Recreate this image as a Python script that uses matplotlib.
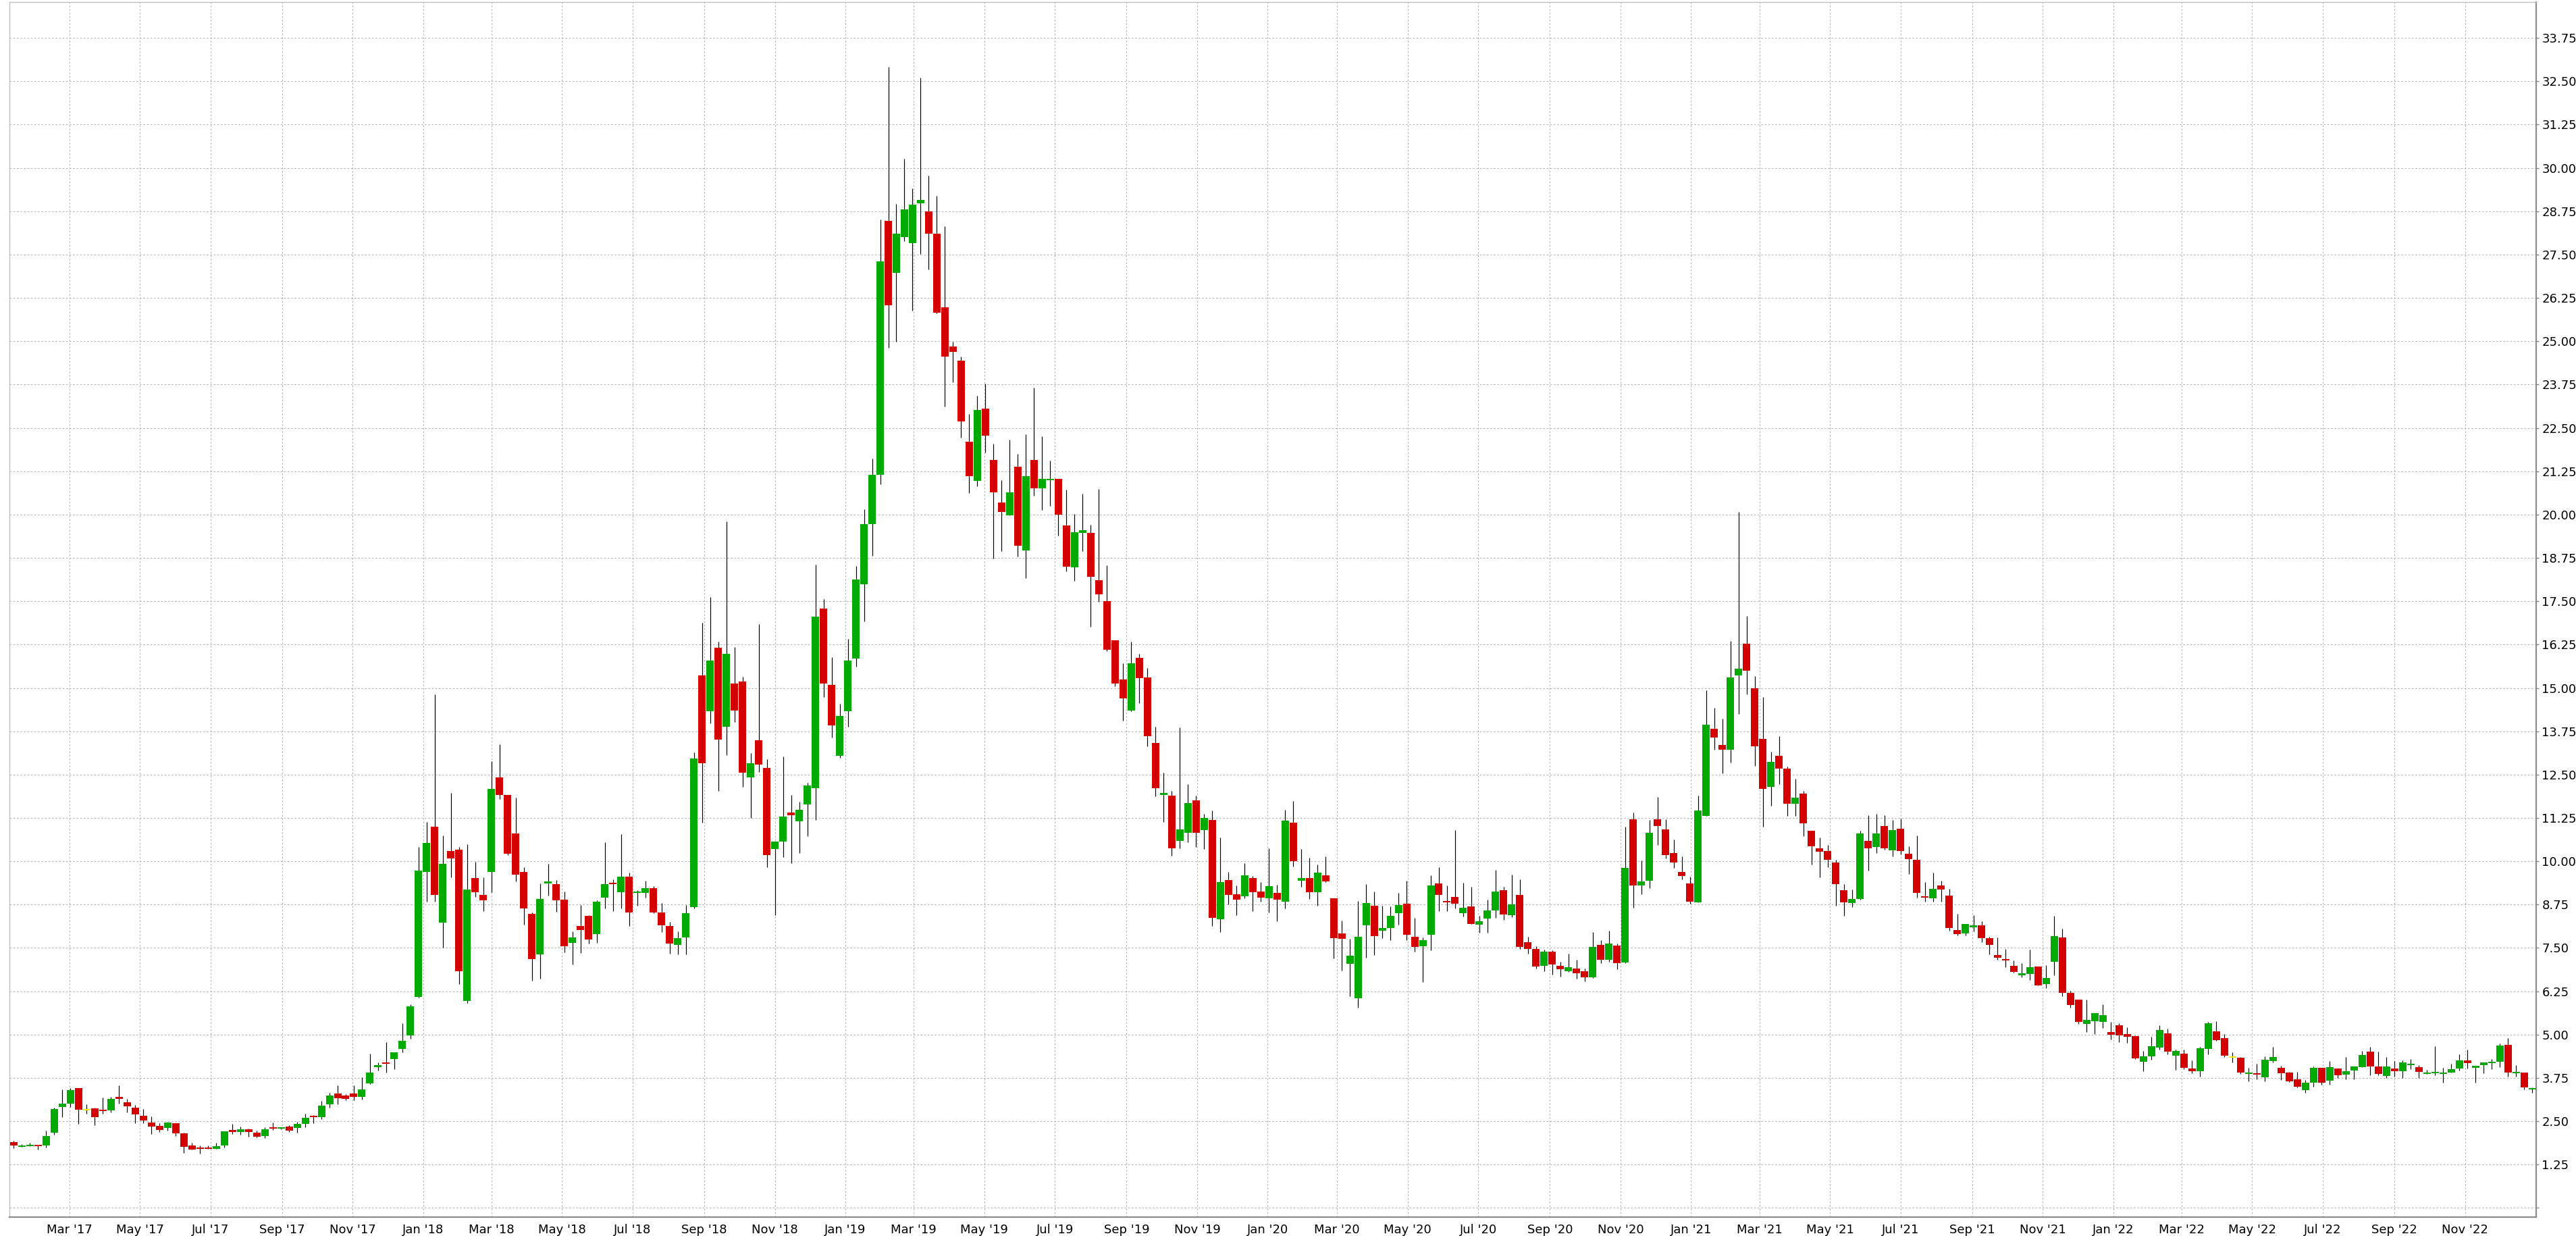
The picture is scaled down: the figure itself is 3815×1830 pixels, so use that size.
import matplotlib
matplotlib.use("Agg")
import matplotlib.pyplot as plt
import matplotlib.dates as mdates
import numpy as np
import pandas as pd

# weekly candles, Jan 2017 - Dec 2022
weeks = pd.date_range("2017-01-12", periods=312, freq="7D")
month_ticks = pd.date_range("2017-03-01", "2022-11-01", freq="2MS")

opens = [
    1.90, 1.77, 1.79, 1.82, 1.81, 2.18, 2.92, 3.00, 3.46, 2.82,
    2.88, 2.82, 2.81, 3.21, 3.05, 2.90, 2.66, 2.47, 2.37, 2.30,
    2.45, 2.16, 1.80, 1.75, 1.75, 1.71, 1.80, 2.23, 2.20, 2.27,
    2.18, 2.08, 2.33, 2.29, 2.35, 2.30, 2.42, 2.65, 2.61, 2.98,
    3.31, 3.25, 3.31, 3.20, 3.60, 4.07, 4.20, 4.29, 4.58, 4.97,
    6.09, 9.70, 11.00, 8.23, 10.30, 10.34, 5.98, 9.52, 9.03, 9.69,
    12.41, 11.92, 10.81, 9.69, 8.48, 7.31, 9.37, 9.35, 8.89, 7.64,
    8.14, 8.43, 7.89, 8.95, 9.38, 9.11, 9.55, 9.09, 9.08, 9.22,
    8.53, 8.14, 7.59, 7.81, 8.68, 15.36, 14.33, 16.16, 13.88, 15.13,
    15.19, 12.42, 13.50, 12.69, 10.35, 10.57, 11.40, 11.15, 11.64, 12.11,
    17.29, 15.09, 13.04, 14.33, 15.85, 18.00, 19.73, 21.15, 28.48, 26.97,
    28.00, 27.84, 28.98, 28.74, 28.10, 25.98, 24.85, 24.44, 22.10, 20.98,
    23.05, 21.58, 20.34, 19.98, 21.39, 18.97, 21.58, 20.76, 21.00, 21.03,
    19.69, 18.47, 19.47, 19.48, 18.11, 17.50, 16.37, 15.24, 14.35, 15.87,
    15.31, 13.42, 11.92, 11.90, 10.58, 10.82, 11.76, 10.89, 11.20, 8.32,
    9.46, 9.04, 9.00, 9.51, 9.12, 8.93, 9.09, 8.83, 11.11, 9.43,
    9.51, 9.10, 9.59, 8.93, 7.92, 7.04, 6.04, 8.16, 8.72, 7.99,
    8.08, 8.51, 8.77, 7.82, 7.55, 7.88, 9.36, 8.85, 8.97, 8.50,
    8.70, 8.18, 8.35, 8.59, 9.16, 8.45, 9.03, 7.66, 7.48, 6.99,
    7.39, 6.98, 6.82, 6.91, 6.82, 6.65, 7.58, 7.16, 7.56, 7.09,
    11.22, 9.31, 9.43, 11.22, 10.92, 10.23, 9.70, 9.36, 8.81, 11.30,
    13.83, 13.36, 13.22, 15.37, 16.28, 14.99, 13.53, 12.15, 13.05, 12.68,
    11.65, 11.96, 10.88, 10.37, 10.30, 9.96, 9.17, 8.79, 8.92, 10.58,
    10.41, 11.02, 10.31, 10.94, 10.22, 10.05, 8.98, 8.93, 9.30, 9.01,
    8.02, 7.91, 8.10, 8.16, 7.79, 7.30, 7.17, 6.98, 6.72, 6.75,
    6.96, 6.45, 7.10, 7.81, 6.20, 6.00, 5.30, 5.38, 5.36, 5.07,
    5.26, 5.02, 4.95, 4.22, 4.38, 4.62, 5.03, 4.39, 4.46, 4.03,
    3.94, 4.59, 5.09, 4.90, 4.33, 4.33, 3.86, 3.88, 3.77, 4.23,
    4.04, 3.90, 3.71, 3.39, 3.62, 4.04, 3.68, 4.03, 3.85, 3.97,
    4.06, 4.51, 4.08, 3.81, 4.02, 3.94, 4.11, 4.06, 3.86, 3.89,
    3.87, 3.91, 4.02, 4.25, 4.04, 4.12, 4.17, 4.22, 4.70, 3.89,
    3.90, 3.42,
]

highs = [
    1.93, 1.84, 1.88, 1.82, 2.23, 2.90, 3.42, 3.46, 3.46, 2.99,
    2.89, 3.18, 3.20, 3.54, 3.14, 2.97, 2.86, 2.64, 2.45, 2.48,
    2.45, 2.18, 1.88, 1.80, 1.80, 1.88, 2.21, 2.43, 2.35, 2.28,
    2.23, 2.32, 2.47, 2.33, 2.39, 2.48, 2.72, 2.67, 3.09, 3.32,
    3.54, 3.29, 3.54, 3.77, 4.46, 4.20, 4.79, 4.49, 5.33, 5.87,
    10.41, 11.13, 14.82, 10.74, 11.97, 10.41, 10.49, 9.99, 9.54, 12.89,
    13.38, 11.92, 11.84, 9.83, 8.53, 9.36, 9.93, 9.46, 9.13, 7.98,
    8.73, 8.45, 8.88, 10.55, 9.48, 10.79, 9.68, 9.16, 9.44, 9.28,
    8.79, 8.25, 7.98, 8.74, 13.14, 16.88, 17.62, 16.34, 19.80, 16.18,
    15.33, 13.12, 16.84, 12.94, 10.57, 13.02, 11.92, 11.72, 12.27, 18.56,
    17.56, 15.88, 14.55, 16.42, 18.52, 20.15, 21.61, 28.52, 32.92, 28.97,
    30.27, 29.40, 32.60, 29.77, 29.19, 28.32, 24.98, 24.56, 22.90, 23.42,
    23.77, 22.05, 21.00, 22.16, 21.76, 22.31, 23.66, 22.26, 21.55, 21.03,
    20.71, 20.02, 20.61, 19.71, 20.73, 18.53, 16.37, 15.71, 16.34, 15.98,
    15.58, 13.89, 12.56, 12.03, 13.87, 12.23, 11.90, 11.37, 11.47, 10.69,
    9.70, 9.31, 9.95, 9.57, 9.39, 10.37, 9.33, 11.48, 11.73, 10.35,
    10.10, 9.90, 10.14, 8.93, 8.28, 7.76, 8.85, 9.35, 9.12, 8.72,
    8.69, 9.09, 9.44, 8.37, 7.80, 9.59, 9.83, 9.31, 10.89, 9.38,
    9.27, 8.43, 8.90, 9.75, 9.26, 9.61, 9.48, 7.83, 7.54, 7.46,
    7.44, 7.10, 7.33, 7.16, 6.91, 7.95, 7.72, 7.99, 7.62, 10.99,
    11.40, 10.02, 11.19, 11.85, 11.22, 10.63, 10.14, 9.56, 11.89, 14.94,
    14.42, 14.12, 16.35, 20.07, 17.08, 15.35, 14.73, 13.16, 13.60, 12.73,
    12.38, 12.02, 10.88, 10.69, 10.47, 10.04, 9.34, 9.19, 10.88, 11.32,
    11.37, 11.32, 11.20, 11.24, 10.43, 10.74, 9.40, 9.68, 9.44, 9.20,
    8.48, 8.19, 8.45, 8.27, 7.82, 7.80, 7.47, 7.14, 7.06, 7.45,
    6.96, 7.00, 8.43, 8.05, 6.27, 6.00, 6.00, 5.62, 5.87, 5.36,
    5.33, 5.22, 4.97, 4.52, 4.93, 5.26, 5.18, 4.57, 4.56, 4.25,
    4.64, 5.37, 5.38, 5.02, 4.48, 4.35, 4.04, 4.16, 4.38, 4.64,
    4.10, 3.93, 3.93, 3.69, 4.09, 4.04, 4.24, 4.03, 4.35, 4.08,
    4.52, 4.64, 4.50, 4.35, 4.24, 4.26, 4.30, 4.12, 3.99, 4.67,
    4.04, 4.16, 4.44, 4.57, 4.10, 4.20, 4.30, 4.74, 4.89, 4.12,
    3.91, 3.48,
]

lows = [
    1.73, 1.77, 1.79, 1.69, 1.75, 2.12, 2.61, 2.92, 2.43, 2.71,
    2.38, 2.71, 2.75, 3.00, 2.75, 2.44, 2.44, 2.14, 2.20, 2.23,
    2.08, 1.58, 1.68, 1.56, 1.70, 1.70, 1.75, 2.14, 2.12, 2.05,
    2.03, 2.01, 2.24, 2.26, 2.20, 2.18, 2.33, 2.45, 2.57, 2.90,
    2.98, 3.10, 3.10, 3.12, 3.57, 3.96, 3.90, 4.01, 4.48, 4.88,
    6.06, 8.83, 8.83, 7.50, 9.53, 6.46, 5.92, 8.98, 8.57, 9.10,
    11.79, 10.18, 9.42, 8.18, 6.55, 6.62, 9.01, 8.54, 7.37, 7.03,
    7.35, 7.62, 7.64, 8.63, 8.57, 8.63, 8.13, 8.71, 8.95, 8.51,
    7.95, 7.34, 7.31, 7.31, 8.64, 11.12, 13.97, 12.02, 13.07, 14.01,
    12.15, 11.25, 12.58, 9.82, 8.44, 10.13, 9.95, 10.23, 10.73, 11.20,
    14.74, 13.57, 12.99, 13.88, 15.62, 16.92, 18.81, 20.87, 24.81, 24.98,
    27.89, 25.89, 27.52, 27.08, 25.80, 23.11, 23.82, 22.21, 20.63, 20.81,
    21.79, 18.73, 18.95, 19.98, 18.79, 18.16, 20.55, 20.13, 20.26, 19.40,
    18.37, 18.08, 18.95, 16.77, 17.49, 16.06, 15.05, 14.05, 14.33, 14.56,
    13.31, 11.87, 11.13, 10.16, 10.37, 10.55, 10.42, 10.35, 8.13, 7.95,
    8.76, 8.44, 8.94, 8.57, 8.83, 8.53, 8.27, 8.63, 9.85, 9.27,
    8.92, 8.71, 9.39, 7.19, 6.85, 6.10, 5.77, 7.21, 7.30, 7.79,
    7.72, 8.17, 7.72, 7.40, 6.51, 7.43, 8.57, 8.57, 8.64, 8.40,
    8.20, 7.93, 7.93, 8.37, 8.31, 8.39, 7.48, 7.34, 6.91, 6.83,
    6.74, 6.68, 6.80, 6.62, 6.54, 6.63, 7.07, 7.11, 6.88, 7.06,
    8.65, 9.05, 9.23, 10.47, 10.08, 9.80, 9.47, 8.77, 8.81, 11.30,
    13.22, 12.53, 12.84, 14.26, 14.82, 12.76, 10.99, 11.61, 12.22, 11.30,
    11.30, 10.73, 9.91, 9.54, 9.82, 8.72, 8.43, 8.68, 8.90, 9.74,
    10.23, 10.33, 10.14, 10.20, 9.63, 8.96, 8.84, 8.83, 8.84, 8.00,
    7.86, 7.86, 7.98, 7.66, 7.32, 7.16, 6.94, 6.78, 6.66, 6.58,
    6.41, 6.34, 6.71, 6.11, 5.78, 5.30, 5.07, 5.02, 5.20, 4.86,
    4.78, 4.77, 4.29, 3.95, 4.28, 4.57, 4.44, 3.99, 4.00, 3.88,
    3.79, 4.44, 4.83, 4.36, 4.19, 3.86, 3.65, 3.72, 3.66, 4.19,
    3.70, 3.63, 3.48, 3.33, 3.50, 3.55, 3.55, 3.74, 3.72, 3.72,
    4.06, 3.83, 3.83, 3.74, 3.79, 3.75, 4.00, 3.74, 3.86, 3.83,
    3.62, 3.91, 3.97, 4.02, 3.62, 3.89, 4.00, 4.06, 3.79, 3.78,
    3.41, 3.33,
]

closes = [
    1.81, 1.80, 1.82, 1.79, 2.08, 2.86, 3.00, 3.40, 2.84, 2.82,
    2.61, 2.79, 3.15, 3.14, 2.94, 2.69, 2.53, 2.34, 2.24, 2.47,
    2.16, 1.77, 1.69, 1.71, 1.71, 1.79, 2.21, 2.20, 2.27, 2.20,
    2.06, 2.27, 2.28, 2.32, 2.23, 2.43, 2.60, 2.61, 2.95, 3.24,
    3.16, 3.14, 3.20, 3.42, 3.91, 4.11, 4.16, 4.49, 4.83, 5.82,
    9.73, 10.53, 9.02, 9.92, 10.09, 6.83, 9.19, 9.10, 8.88, 12.09,
    11.92, 10.22, 9.61, 8.64, 7.18, 8.92, 9.40, 8.88, 7.55, 7.80,
    8.01, 7.75, 8.84, 9.35, 9.34, 9.55, 8.52, 9.12, 9.22, 8.53,
    8.15, 7.62, 7.79, 8.51, 12.96, 12.82, 15.79, 13.51, 15.99, 14.35,
    12.55, 12.83, 12.78, 10.17, 10.57, 11.29, 11.32, 11.48, 12.19, 17.06,
    15.13, 13.92, 14.20, 15.79, 18.13, 19.72, 21.15, 27.31, 26.03, 28.10,
    28.81, 28.94, 29.08, 28.11, 25.82, 24.56, 24.69, 22.68, 21.11, 23.02,
    22.27, 20.65, 20.08, 20.65, 19.11, 21.11, 20.76, 21.03, 21.03, 20.00,
    18.50, 19.50, 19.55, 18.21, 17.69, 16.11, 15.13, 14.69, 15.71, 15.29,
    13.60, 12.10, 11.98, 10.37, 10.92, 11.68, 10.82, 11.26, 8.36, 9.39,
    9.02, 8.90, 9.60, 9.10, 8.96, 9.28, 8.89, 11.17, 10.00, 9.51,
    9.10, 9.67, 9.42, 7.78, 7.76, 7.27, 7.82, 8.79, 7.84, 8.07,
    8.43, 8.73, 7.88, 7.52, 7.72, 9.30, 9.02, 8.82, 8.77, 8.65,
    8.20, 8.27, 8.58, 9.13, 8.47, 8.76, 7.52, 7.48, 6.97, 7.39,
    7.02, 6.88, 6.94, 6.77, 6.65, 7.53, 7.16, 7.62, 7.07, 9.81,
    9.31, 9.42, 10.82, 11.02, 10.18, 9.97, 9.57, 8.84, 11.46, 13.94,
    13.56, 13.21, 15.30, 15.56, 15.49, 13.31, 12.09, 12.87, 12.68, 11.65,
    11.83, 11.09, 10.43, 10.27, 10.04, 9.34, 8.81, 8.92, 10.81, 10.38,
    10.81, 10.37, 10.90, 10.29, 10.07, 9.08, 8.95, 9.20, 9.19, 8.07,
    7.89, 8.19, 8.15, 7.78, 7.58, 7.21, 7.13, 6.80, 6.75, 6.94,
    6.41, 6.63, 7.84, 6.20, 5.85, 5.36, 5.42, 5.62, 5.56, 5.00,
    4.98, 4.94, 4.31, 4.38, 4.66, 5.13, 4.51, 4.52, 4.05, 3.95,
    4.60, 5.32, 4.85, 4.39, 4.33, 3.90, 3.89, 3.85, 4.27, 4.35,
    3.89, 3.66, 3.50, 3.62, 4.04, 3.62, 4.06, 3.83, 3.94, 4.08,
    4.42, 4.09, 3.86, 4.08, 3.95, 4.19, 4.13, 3.92, 3.89, 3.93,
    3.90, 4.01, 4.26, 4.18, 4.10, 4.20, 4.20, 4.68, 3.91, 3.93,
    3.48, 3.46,
]

price_ticks = np.arange(0, 34.5, 1.25)

UP = "#00aa00"
DOWN = "#d40000"
FLAT = "#ffee00"

plt.rcParams["font.family"] = ["DejaVu Sans"]

W, H = 3816, 1830
fig = plt.figure(figsize=(W / 100, H / 100), dpi=100)
ax = fig.add_axes([14.3 / W, (H - 1802.3) / H, (3756 - 14.3) / W, (1802.3 - 3.3) / H])

x = mdates.date2num(weeks)
o = np.array(opens)
h = np.array(highs)
l = np.array(lows)
c = np.array(closes)

colors = np.where(c > o, UP, np.where(c < o, DOWN, FLAT))
body_low = np.minimum(o, c)
body_h = np.maximum(np.abs(c - o), 0.04)

ax.vlines(x, l, h, color="black", linewidth=0.85, zorder=2)
ax.bar(x, body_h, bottom=body_low, width=6.42, color=colors, linewidth=0, zorder=3)

ax.set_xlim(x[0] - 3.5, x[-1] + 3.5)
ax.set_ylim(-0.27, 34.78)

ax.set_xticks(mdates.date2num(month_ticks))
ax.xaxis.set_major_formatter(mdates.DateFormatter("%b '%y"))

ax.yaxis.tick_right()
ax.set_yticks(price_ticks)
ax.set_yticklabels(["" if v == 0 else f"{v:.2f}" for v in price_ticks])

ax.tick_params(axis="y", labelsize=13, length=3, width=1, color="#888888", pad=3)
ax.tick_params(axis="x", labelsize=13, length=0, pad=7)

ax.set_axisbelow(True)
ax.grid(True, color="#b4b4b4", linestyle=(0, (2.5, 2.5)), linewidth=0.75)

for side in ["top", "left"]:
    ax.spines[side].set_color("#c0c0c0")
    ax.spines[side].set_linewidth(1.0)
for side in ["right", "bottom"]:
    ax.spines[side].set_color("#8c8c8c")
    ax.spines[side].set_linewidth(1.6)

fig.savefig("out.png", dpi=100)
